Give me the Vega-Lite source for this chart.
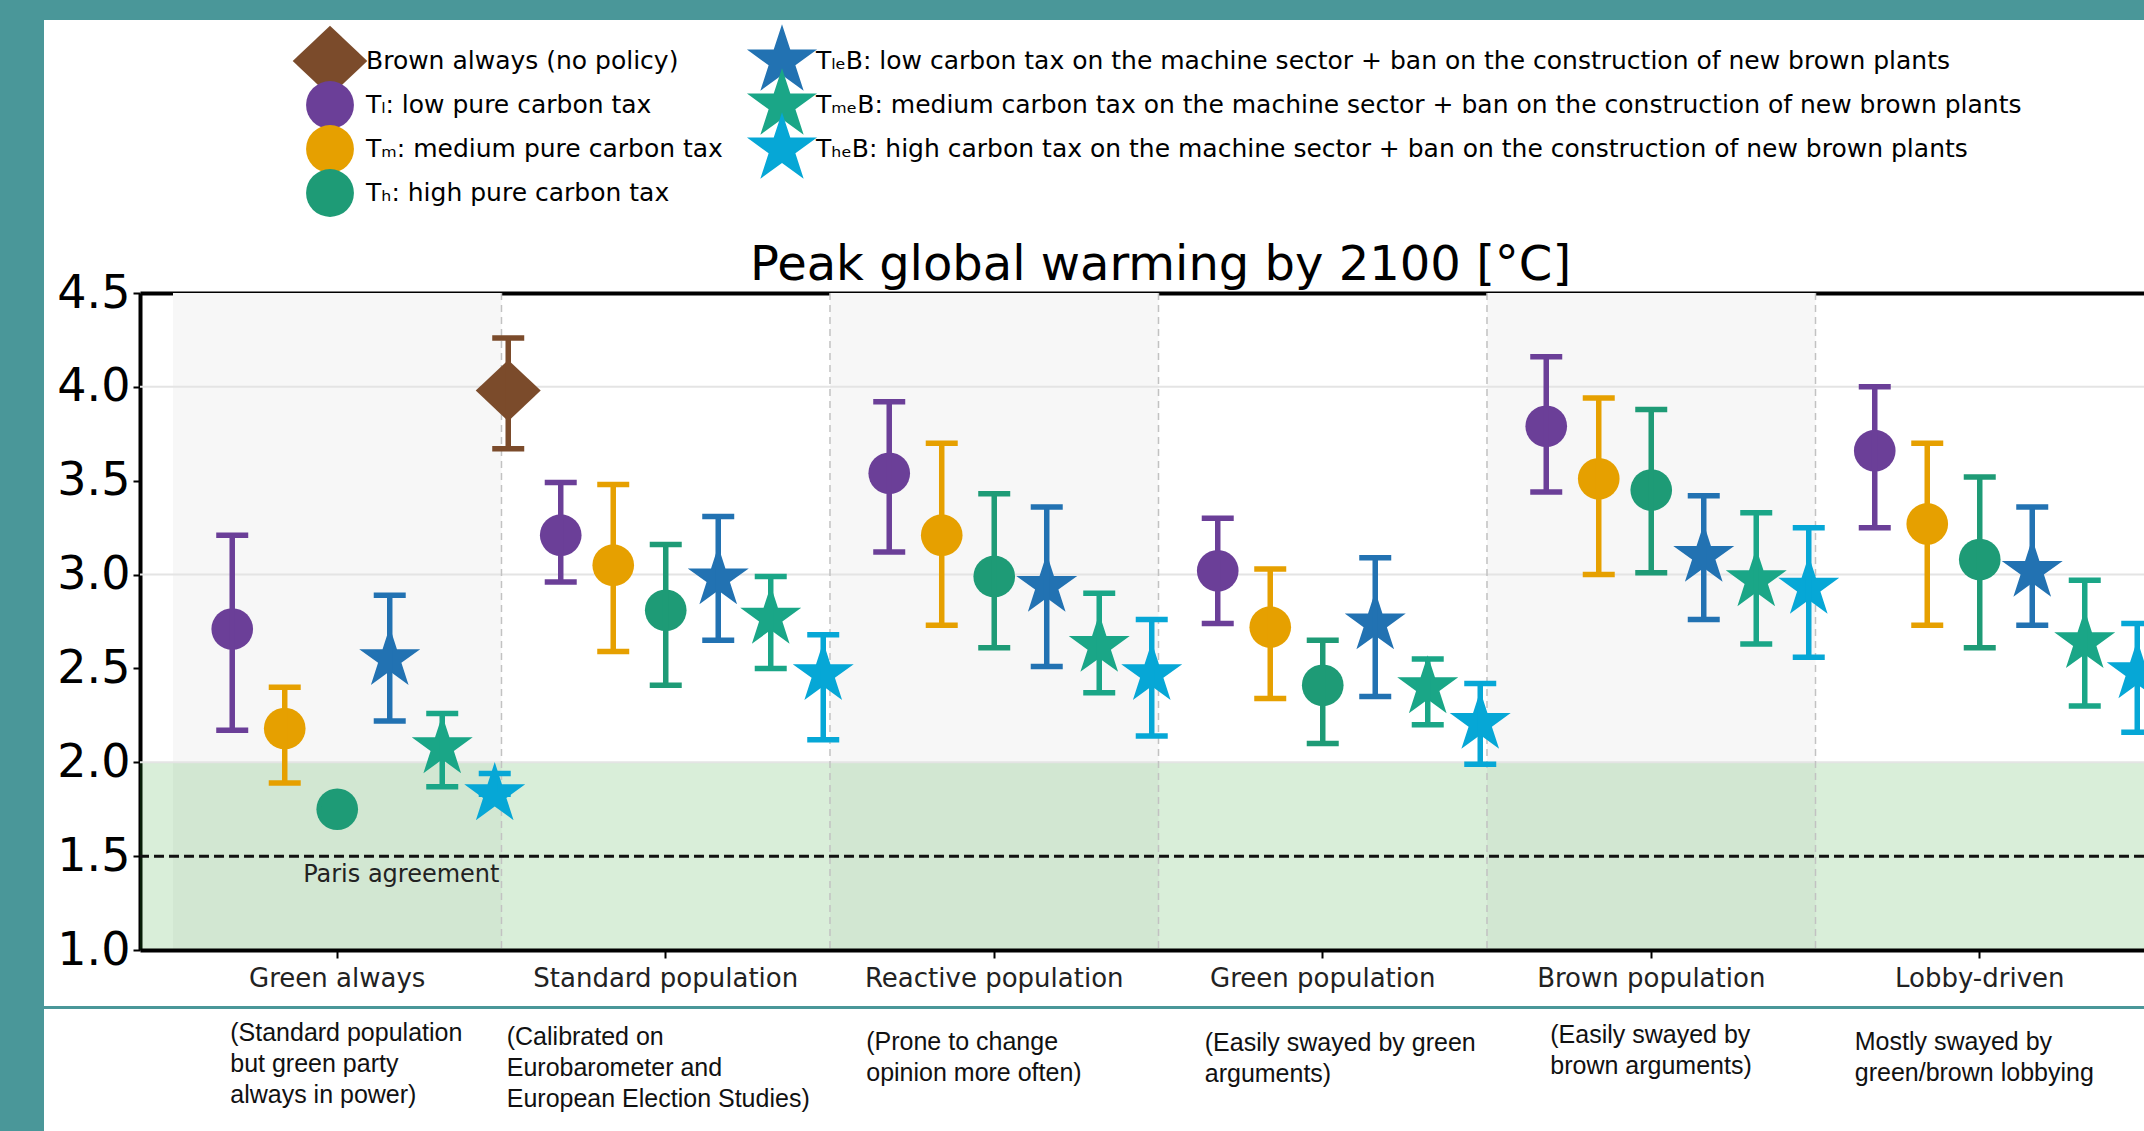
{
  "$schema": "https://vega.github.io/schema/vega-lite/v6.json",
  "padding": 0,
  "background": "white",
  "columns": 3,
  "bounds": "flush",
  "spacing": 0,
  "config": {"view": {"stroke": null}, "font": "DejaVu Sans", "concat": {"spacing": 0}},
  "datasets": {
    "none": [],
    "pts": [
      {"cat": "Green always", "series": "Tl", "v": 2.71, "lo": 2.17, "hi": 3.21},
      {"cat": "Green always", "series": "Tm", "v": 2.18, "lo": 1.89, "hi": 2.40},
      {"cat": "Green always", "series": "Th", "v": 1.75, "lo": 1.75, "hi": 1.75},
      {"cat": "Green always", "series": "TleB", "v": 2.55, "lo": 2.22, "hi": 2.89},
      {"cat": "Green always", "series": "TmeB", "v": 2.08, "lo": 1.87, "hi": 2.26},
      {"cat": "Green always", "series": "TheB", "v": 1.83, "lo": 1.83, "hi": 1.94},
      {"cat": "Standard population", "series": "B", "v": 3.98, "lo": 3.67, "hi": 4.26},
      {"cat": "Standard population", "series": "Tl", "v": 3.21, "lo": 2.96, "hi": 3.49},
      {"cat": "Standard population", "series": "Tm", "v": 3.05, "lo": 2.59, "hi": 3.48},
      {"cat": "Standard population", "series": "Th", "v": 2.81, "lo": 2.41, "hi": 3.16},
      {"cat": "Standard population", "series": "TleB", "v": 2.98, "lo": 2.65, "hi": 3.31},
      {"cat": "Standard population", "series": "TmeB", "v": 2.77, "lo": 2.50, "hi": 2.99},
      {"cat": "Standard population", "series": "TheB", "v": 2.47, "lo": 2.12, "hi": 2.68},
      {"cat": "Reactive population", "series": "Tl", "v": 3.54, "lo": 3.12, "hi": 3.92},
      {"cat": "Reactive population", "series": "Tm", "v": 3.21, "lo": 2.73, "hi": 3.70},
      {"cat": "Reactive population", "series": "Th", "v": 2.99, "lo": 2.61, "hi": 3.43},
      {"cat": "Reactive population", "series": "TleB", "v": 2.94, "lo": 2.51, "hi": 3.36},
      {"cat": "Reactive population", "series": "TmeB", "v": 2.62, "lo": 2.37, "hi": 2.90},
      {"cat": "Reactive population", "series": "TheB", "v": 2.47, "lo": 2.14, "hi": 2.76},
      {"cat": "Green population", "series": "Tl", "v": 3.02, "lo": 2.74, "hi": 3.30},
      {"cat": "Green population", "series": "Tm", "v": 2.72, "lo": 2.34, "hi": 3.03},
      {"cat": "Green population", "series": "Th", "v": 2.41, "lo": 2.10, "hi": 2.65},
      {"cat": "Green population", "series": "TleB", "v": 2.74, "lo": 2.35, "hi": 3.09},
      {"cat": "Green population", "series": "TmeB", "v": 2.40, "lo": 2.20, "hi": 2.55},
      {"cat": "Green population", "series": "TheB", "v": 2.21, "lo": 1.99, "hi": 2.42},
      {"cat": "Brown population", "series": "Tl", "v": 3.79, "lo": 3.44, "hi": 4.16},
      {"cat": "Brown population", "series": "Tm", "v": 3.51, "lo": 3.00, "hi": 3.94},
      {"cat": "Brown population", "series": "Th", "v": 3.45, "lo": 3.01, "hi": 3.88},
      {"cat": "Brown population", "series": "TleB", "v": 3.10, "lo": 2.76, "hi": 3.42},
      {"cat": "Brown population", "series": "TmeB", "v": 2.97, "lo": 2.63, "hi": 3.33},
      {"cat": "Brown population", "series": "TheB", "v": 2.93, "lo": 2.56, "hi": 3.25},
      {"cat": "Lobby-driven", "series": "Tl", "v": 3.66, "lo": 3.25, "hi": 4.00},
      {"cat": "Lobby-driven", "series": "Tm", "v": 3.27, "lo": 2.73, "hi": 3.70},
      {"cat": "Lobby-driven", "series": "Th", "v": 3.08, "lo": 2.61, "hi": 3.52},
      {"cat": "Lobby-driven", "series": "TleB", "v": 3.02, "lo": 2.73, "hi": 3.36},
      {"cat": "Lobby-driven", "series": "TmeB", "v": 2.64, "lo": 2.30, "hi": 2.97},
      {"cat": "Lobby-driven", "series": "TheB", "v": 2.48, "lo": 2.16, "hi": 2.74}
    ],
    "leg": [
      {"series": "B", "kind": "pure", "label": "Brown always (no policy)"},
      {"series": "Tl", "kind": "pure", "label": "Tₗ: low pure carbon tax"},
      {"series": "Tm", "kind": "pure", "label": "Tₘ: medium pure carbon tax"},
      {"series": "Th", "kind": "pure", "label": "Tₕ: high pure carbon tax"},
      {"series": "TleB", "kind": "ban", "label": "TₗₑB: low carbon tax on the machine sector + ban on the construction of new brown plants"},
      {"series": "TmeB", "kind": "ban", "label": "TₘₑB: medium carbon tax on the machine sector + ban on the construction of new brown plants"},
      {"series": "TheB", "kind": "ban", "label": "TₕₑB: high carbon tax on the machine sector + ban on the construction of new brown plants"}
    ],
    "shaded": [{"cat": "Green always"}, {"cat": "Reactive population"}, {"cat": "Brown population"}],
    "seps": [{"cat": "Standard population"}, {"cat": "Reactive population"}, {"cat": "Green population"}, {"cat": "Brown population"}, {"cat": "Lobby-driven"}],
    "grid": [{"g": 2}, {"g": 3}, {"g": 4}],
    "desc": [
      {"cat": "Green always", "t": "(Standard population\nbut green party\nalways in power)"},
      {"cat": "Standard population", "t": "(Calibrated on\nEurobarometer and\nEuropean Election Studies)"},
      {"cat": "Reactive population", "t": "(Prone to change\nopinion more often)"},
      {"cat": "Green population", "t": "(Easily swayed by green\narguments)"},
      {"cat": "Brown population", "t": "(Easily swayed by\nbrown arguments)"},
      {"cat": "Lobby-driven", "t": "Mostly swayed by\ngreen/brown lobbying"}
    ]
  },
  "concat": [
    {"data": {"name": "none"}, "mark": "point", "width": 44, "height": 20, "view": {"fill": "#4a9799", "stroke": null}},
    {"data": {"name": "none"}, "mark": "point", "width": 96, "height": 20, "view": {"fill": "#4a9799", "stroke": null}},
    {"data": {"name": "none"}, "mark": "point", "width": 2004, "height": 20, "view": {"fill": "#4a9799", "stroke": null}},

    {"data": {"name": "none"}, "mark": "point", "width": 44, "height": 273, "view": {"fill": "#4a9799", "stroke": null}},
    {"data": {"name": "none"}, "mark": "point", "width": 96, "height": 273},
    {
      "width": 2004,
      "height": 273,
      "data": {"name": "leg"},
      "resolve": {"scale": {"y": "independent"}},
      "layer": [
        {
          "transform": [{"filter": {"field": "kind", "equal": "pure"}}],
          "mark": {"type": "point", "filled": true, "opacity": 1, "size": 2290, "strokeWidth": 0},
          "encoding": {
            "x": {"field": "kind", "type": "nominal", "scale": {"type": "point", "domain": ["pure", "ban"], "range": [190, 642], "padding": 0}, "axis": null},
            "y": {"field": "series", "type": "nominal", "scale": {"type": "point", "domain": ["B", "Tl", "Tm", "Th"], "range": [41, 173], "padding": 0}, "axis": null},
            "color": {"field": "series", "type": "nominal", "scale": {"domain": ["B", "Tl", "Tm", "Th", "TleB", "TmeB", "TheB"], "range": ["#7b4b2b", "#6b3f98", "#e6a000", "#1e9b76", "#2272b2", "#1aa687", "#06a7d6"]}, "legend": null},
            "shape": {"field": "series", "type": "nominal", "scale": {"domain": ["B", "Tl", "Tm", "Th", "TleB", "TmeB", "TheB"], "range": [
              "M0,-1.47L1.56,0L0,1.47L-1.56,0Z", "circle", "circle", "circle",
              "M0,-1.54L0.3458,-0.4759L1.4646,-0.4759L0.5595,0.1818L0.9052,1.2459L0,0.5883L-0.9052,1.2459L-0.5595,0.1818L-1.4646,-0.4759L-0.3458,-0.4759Z",
              "M0,-1.54L0.3458,-0.4759L1.4646,-0.4759L0.5595,0.1818L0.9052,1.2459L0,0.5883L-0.9052,1.2459L-0.5595,0.1818L-1.4646,-0.4759L-0.3458,-0.4759Z",
              "M0,-1.54L0.3458,-0.4759L1.4646,-0.4759L0.5595,0.1818L0.9052,1.2459L0,0.5883L-0.9052,1.2459L-0.5595,0.1818L-1.4646,-0.4759L-0.3458,-0.4759Z"]}, "legend": null}
          }
        },
        {
          "transform": [{"filter": {"field": "kind", "equal": "pure"}}],
          "mark": {"type": "text", "align": "left", "baseline": "middle", "dx": 36, "font": "DejaVu Sans", "fontSize": 25, "color": "black"},
          "encoding": {
            "x": {"field": "kind", "type": "nominal", "scale": {"type": "point", "domain": ["pure", "ban"], "range": [190, 642], "padding": 0}, "axis": null},
            "y": {"field": "series", "type": "nominal", "scale": {"type": "point", "domain": ["B", "Tl", "Tm", "Th"], "range": [41, 173], "padding": 0}, "axis": null},
            "text": {"field": "label", "type": "nominal"}
          }
        },
        {
          "transform": [{"filter": {"field": "kind", "equal": "ban"}}],
          "mark": {"type": "point", "filled": true, "opacity": 1, "size": 2290, "strokeWidth": 0},
          "encoding": {
            "x": {"field": "kind", "type": "nominal", "scale": {"type": "point", "domain": ["pure", "ban"], "range": [190, 642], "padding": 0}, "axis": null},
            "y": {"field": "series", "type": "nominal", "scale": {"type": "point", "domain": ["TleB", "TmeB", "TheB"], "range": [41, 129], "padding": 0}, "axis": null},
            "color": {"field": "series", "type": "nominal", "scale": {"domain": ["B", "Tl", "Tm", "Th", "TleB", "TmeB", "TheB"], "range": ["#7b4b2b", "#6b3f98", "#e6a000", "#1e9b76", "#2272b2", "#1aa687", "#06a7d6"]}, "legend": null},
            "shape": {"field": "series", "type": "nominal", "scale": {"domain": ["B", "Tl", "Tm", "Th", "TleB", "TmeB", "TheB"], "range": [
              "M0,-1.47L1.56,0L0,1.47L-1.56,0Z", "circle", "circle", "circle",
              "M0,-1.54L0.3458,-0.4759L1.4646,-0.4759L0.5595,0.1818L0.9052,1.2459L0,0.5883L-0.9052,1.2459L-0.5595,0.1818L-1.4646,-0.4759L-0.3458,-0.4759Z",
              "M0,-1.54L0.3458,-0.4759L1.4646,-0.4759L0.5595,0.1818L0.9052,1.2459L0,0.5883L-0.9052,1.2459L-0.5595,0.1818L-1.4646,-0.4759L-0.3458,-0.4759Z",
              "M0,-1.54L0.3458,-0.4759L1.4646,-0.4759L0.5595,0.1818L0.9052,1.2459L0,0.5883L-0.9052,1.2459L-0.5595,0.1818L-1.4646,-0.4759L-0.3458,-0.4759Z"]}, "legend": null}
          }
        },
        {
          "transform": [{"filter": {"field": "kind", "equal": "ban"}}],
          "mark": {"type": "text", "align": "left", "baseline": "middle", "dx": 34, "font": "DejaVu Sans", "fontSize": 25, "color": "black"},
          "encoding": {
            "x": {"field": "kind", "type": "nominal", "scale": {"type": "point", "domain": ["pure", "ban"], "range": [190, 642], "padding": 0}, "axis": null},
            "y": {"field": "series", "type": "nominal", "scale": {"type": "point", "domain": ["TleB", "TmeB", "TheB"], "range": [41, 129], "padding": 0}, "axis": null},
            "text": {"field": "label", "type": "nominal"}
          }
        }
      ]
    },

    {"data": {"name": "none"}, "mark": "point", "width": 44, "height": 657, "view": {"fill": "#4a9799", "stroke": null}},
    {"data": {"name": "none"}, "mark": "point", "width": 96, "height": 657},
    {
      "width": 2004,
      "height": 657,
      "resolve": {"axis": {"x": "independent"}},
      "layer": [
        {
          "data": {"name": "shaded"},
          "mark": {"type": "rect", "color": "#f7f7f7"},
          "encoding": {
            "x": {"field": "cat", "type": "nominal",
              "scale": {"type": "band", "domain": ["Green always", "Standard population", "Reactive population", "Green population", "Brown population", "Lobby-driven"], "paddingInner": 0, "paddingOuter": 0.0502, "align": 1},
              "axis": {"orient": "bottom", "title": null, "labelAngle": 0, "labelFont": "DejaVu Sans", "labelFontSize": 26, "labelColor": "#222", "labelPadding": 7, "labelLimit": 400, "tickColor": "black", "tickSize": 8, "tickWidth": 2, "domainColor": "black", "domainWidth": 4, "grid": false}},
            "y": {"datum": 1, "type": "quantitative",
              "scale": {"domain": [1, 4.5], "nice": false, "zero": false},
              "axis": {"title": null, "values": [1, 1.5, 2, 2.5, 3, 3.5, 4, 4.5], "format": ".1f", "labelFont": "DejaVu Sans", "labelFontSize": 46, "labelColor": "black", "labelPadding": 3, "labelFlush": false, "labelOverlap": false, "tickColor": "black", "tickSize": 7, "tickWidth": 2, "domainColor": "black", "domainWidth": 4, "grid": false}},
            "y2": {"datum": 4.5}
          }
        },
        {
          "data": {"values": [{}]},
          "mark": {"type": "rect", "color": "#2ca02c", "opacity": 0.18},
          "encoding": {"y": {"datum": 1, "type": "quantitative", "scale": {"domain": [1, 4.5], "nice": false, "zero": false}}, "y2": {"datum": 2}}
        },
        {
          "data": {"name": "grid"},
          "mark": {"type": "rule", "color": "#e4e4e4", "strokeWidth": 2},
          "encoding": {"y": {"field": "g", "type": "quantitative", "scale": {"domain": [1, 4.5], "nice": false, "zero": false}}}
        },
        {
          "data": {"name": "seps"},
          "mark": {"type": "rule", "color": "#c2c2c2", "strokeWidth": 1.5, "strokeDash": [7, 5]},
          "encoding": {"x": {"field": "cat", "type": "nominal", "bandPosition": 0,
            "scale": {"type": "band", "domain": ["Green always", "Standard population", "Reactive population", "Green population", "Brown population", "Lobby-driven"], "paddingInner": 0, "paddingOuter": 0.0502, "align": 1},
            "axis": null}}
        },
        {
          "data": {"values": [{}]},
          "mark": {"type": "rule", "color": "#111111", "strokeWidth": 3, "strokeDash": [10, 5]},
          "encoding": {"y": {"datum": 1.5, "type": "quantitative", "scale": {"domain": [1, 4.5], "nice": false, "zero": false}}}
        },
        {
          "data": {"values": [{}]},
          "mark": {"type": "text", "text": "Paris agreement", "align": "right", "baseline": "top", "dy": 7, "dx": -2, "font": "DejaVu Sans", "fontSize": 24, "color": "#222222"},
          "encoding": {
            "x": {"datum": "Green always", "type": "nominal", "bandPosition": 1,
              "scale": {"type": "band", "domain": ["Green always", "Standard population", "Reactive population", "Green population", "Brown population", "Lobby-driven"], "paddingInner": 0, "paddingOuter": 0.0502, "align": 1},
              "axis": null},
            "y": {"datum": 1.5, "type": "quantitative", "scale": {"domain": [1, 4.5], "nice": false, "zero": false}}
          }
        },
        {
          "data": {"name": "pts"},
          "mark": {"type": "point", "filled": true, "opacity": 1, "size": 1735, "strokeWidth": 0, "clip": true},
          "encoding": {
            "x": {"field": "cat", "type": "nominal",
              "scale": {"type": "band", "domain": ["Green always", "Standard population", "Reactive population", "Green population", "Brown population", "Lobby-driven"], "paddingInner": 0, "paddingOuter": 0.0502, "align": 1},
              "axis": {"orient": "top", "labels": false, "ticks": false, "grid": false, "domainColor": "black", "domainWidth": 4, "title": "Peak global warming by 2100 [°C]", "titleFont": "DejaVu Sans", "titleFontSize": 48, "titleFontWeight": "normal", "titleColor": "black", "titlePadding": 4, "titleX": 1020}},
            "xOffset": {"field": "series", "type": "nominal", "scale": {"type": "band", "domain": ["B", "Tl", "Tm", "Th", "TleB", "TmeB", "TheB"], "range": [-19.5, 348], "paddingInner": 0, "paddingOuter": 0}},
            "y": {"field": "v", "type": "quantitative", "scale": {"domain": [1, 4.5], "nice": false, "zero": false}},
            "color": {"field": "series", "type": "nominal", "scale": {"domain": ["B", "Tl", "Tm", "Th", "TleB", "TmeB", "TheB"], "range": ["#7b4b2b", "#6b3f98", "#e6a000", "#1e9b76", "#2272b2", "#1aa687", "#06a7d6"]}, "legend": null},
            "shape": {"field": "series", "type": "nominal", "scale": {"domain": ["B", "Tl", "Tm", "Th", "TleB", "TmeB", "TheB"], "range": [
              "M0,-1.47L1.56,0L0,1.47L-1.56,0Z", "circle", "circle", "circle",
              "M0,-1.54L0.3458,-0.4759L1.4646,-0.4759L0.5595,0.1818L0.9052,1.2459L0,0.5883L-0.9052,1.2459L-0.5595,0.1818L-1.4646,-0.4759L-0.3458,-0.4759Z",
              "M0,-1.54L0.3458,-0.4759L1.4646,-0.4759L0.5595,0.1818L0.9052,1.2459L0,0.5883L-0.9052,1.2459L-0.5595,0.1818L-1.4646,-0.4759L-0.3458,-0.4759Z",
              "M0,-1.54L0.3458,-0.4759L1.4646,-0.4759L0.5595,0.1818L0.9052,1.2459L0,0.5883L-0.9052,1.2459L-0.5595,0.1818L-1.4646,-0.4759L-0.3458,-0.4759Z"]}, "legend": null}
          }
        },
        {
          "data": {"name": "pts"},
          "mark": {"type": "rule", "strokeWidth": 5.5, "clip": true},
          "encoding": {
            "x": {"field": "cat", "type": "nominal",
              "scale": {"type": "band", "domain": ["Green always", "Standard population", "Reactive population", "Green population", "Brown population", "Lobby-driven"], "paddingInner": 0, "paddingOuter": 0.0502, "align": 1},
              "axis": null},
            "xOffset": {"field": "series", "type": "nominal", "scale": {"type": "band", "domain": ["B", "Tl", "Tm", "Th", "TleB", "TmeB", "TheB"], "range": [-19.5, 348], "paddingInner": 0, "paddingOuter": 0}},
            "y": {"field": "lo", "type": "quantitative", "scale": {"domain": [1, 4.5], "nice": false, "zero": false}},
            "y2": {"field": "hi"},
            "color": {"field": "series", "type": "nominal", "scale": {"domain": ["B", "Tl", "Tm", "Th", "TleB", "TmeB", "TheB"], "range": ["#7b4b2b", "#6b3f98", "#e6a000", "#1e9b76", "#2272b2", "#1aa687", "#06a7d6"]}, "legend": null}
          }
        },
        {
          "data": {"name": "pts"},
          "mark": {"type": "tick", "orient": "horizontal", "size": 32, "thickness": 5.5, "opacity": 1, "clip": true},
          "encoding": {
            "x": {"field": "cat", "type": "nominal",
              "scale": {"type": "band", "domain": ["Green always", "Standard population", "Reactive population", "Green population", "Brown population", "Lobby-driven"], "paddingInner": 0, "paddingOuter": 0.0502, "align": 1},
              "axis": null},
            "xOffset": {"field": "series", "type": "nominal", "scale": {"type": "band", "domain": ["B", "Tl", "Tm", "Th", "TleB", "TmeB", "TheB"], "range": [-19.5, 348], "paddingInner": 0, "paddingOuter": 0}},
            "y": {"field": "lo", "type": "quantitative", "scale": {"domain": [1, 4.5], "nice": false, "zero": false}},
            "color": {"field": "series", "type": "nominal", "scale": {"domain": ["B", "Tl", "Tm", "Th", "TleB", "TmeB", "TheB"], "range": ["#7b4b2b", "#6b3f98", "#e6a000", "#1e9b76", "#2272b2", "#1aa687", "#06a7d6"]}, "legend": null}
          }
        },
        {
          "data": {"name": "pts"},
          "mark": {"type": "tick", "orient": "horizontal", "size": 32, "thickness": 5.5, "opacity": 1, "clip": true},
          "encoding": {
            "x": {"field": "cat", "type": "nominal",
              "scale": {"type": "band", "domain": ["Green always", "Standard population", "Reactive population", "Green population", "Brown population", "Lobby-driven"], "paddingInner": 0, "paddingOuter": 0.0502, "align": 1},
              "axis": null},
            "xOffset": {"field": "series", "type": "nominal", "scale": {"type": "band", "domain": ["B", "Tl", "Tm", "Th", "TleB", "TmeB", "TheB"], "range": [-19.5, 348], "paddingInner": 0, "paddingOuter": 0}},
            "y": {"field": "hi", "type": "quantitative", "scale": {"domain": [1, 4.5], "nice": false, "zero": false}},
            "color": {"field": "series", "type": "nominal", "scale": {"domain": ["B", "Tl", "Tm", "Th", "TleB", "TmeB", "TheB"], "range": ["#7b4b2b", "#6b3f98", "#e6a000", "#1e9b76", "#2272b2", "#1aa687", "#06a7d6"]}, "legend": null}
          }
        }
      ]
    },

    {"data": {"name": "none"}, "mark": "point", "width": 44, "height": 56, "view": {"fill": "#4a9799", "stroke": null}},
    {"data": {"name": "none"}, "mark": "point", "width": 96, "height": 56},
    {"data": {"name": "none"}, "mark": "point", "width": 2004, "height": 56},

    {"data": {"name": "none"}, "mark": "point", "width": 44, "height": 3, "view": {"fill": "#4a9799", "stroke": null}},
    {"data": {"name": "none"}, "mark": "point", "width": 96, "height": 3, "view": {"fill": "#4a9799", "stroke": null}},
    {"data": {"name": "none"}, "mark": "point", "width": 2004, "height": 3, "view": {"fill": "#4a9799", "stroke": null}},

    {"data": {"name": "none"}, "mark": "point", "width": 44, "height": 122, "view": {"fill": "#4a9799", "stroke": null}},
    {"data": {"name": "none"}, "mark": "point", "width": 96, "height": 122},
    {
      "width": 2004,
      "height": 122,
      "data": {"name": "desc"},
      "encoding": {
        "x": {"field": "cat", "type": "nominal",
          "scale": {"type": "band", "domain": ["Green always", "Standard population", "Reactive population", "Green population", "Brown population", "Lobby-driven"], "paddingInner": 0, "paddingOuter": 0.0502, "align": 1},
          "axis": null},
        "y": {"datum": 1, "type": "quantitative", "scale": {"domain": [0, 1]}, "axis": null},
        "text": {"field": "t", "type": "nominal"}
      },
      "layer": [
        {"transform": [{"filter": {"field": "cat", "equal": "Green always"}}], "mark": {"type": "text", "align": "left", "baseline": "top", "dx": -107, "dy": 12, "font": "Liberation Sans", "fontSize": 25, "lineHeight": 31, "color": "#111111", "lineBreak": "\n"}},
        {"transform": [{"filter": {"field": "cat", "equal": "Standard population"}}], "mark": {"type": "text", "align": "left", "baseline": "top", "dx": -159, "dy": 16, "font": "Liberation Sans", "fontSize": 25, "lineHeight": 31, "color": "#111111", "lineBreak": "\n"}},
        {"transform": [{"filter": {"field": "cat", "equal": "Reactive population"}}], "mark": {"type": "text", "align": "left", "baseline": "top", "dx": -128, "dy": 21, "font": "Liberation Sans", "fontSize": 25, "lineHeight": 31, "color": "#111111", "lineBreak": "\n"}},
        {"transform": [{"filter": {"field": "cat", "equal": "Green population"}}], "mark": {"type": "text", "align": "left", "baseline": "top", "dx": -118, "dy": 22, "font": "Liberation Sans", "fontSize": 25, "lineHeight": 31, "color": "#111111", "lineBreak": "\n"}},
        {"transform": [{"filter": {"field": "cat", "equal": "Brown population"}}], "mark": {"type": "text", "align": "left", "baseline": "top", "dx": -101, "dy": 14, "font": "Liberation Sans", "fontSize": 25, "lineHeight": 31, "color": "#111111", "lineBreak": "\n"}},
        {"transform": [{"filter": {"field": "cat", "equal": "Lobby-driven"}}], "mark": {"type": "text", "align": "left", "baseline": "top", "dx": -125, "dy": 21, "font": "Liberation Sans", "fontSize": 25, "lineHeight": 31, "color": "#111111", "lineBreak": "\n"}}
      ]
    }
  ]
}
